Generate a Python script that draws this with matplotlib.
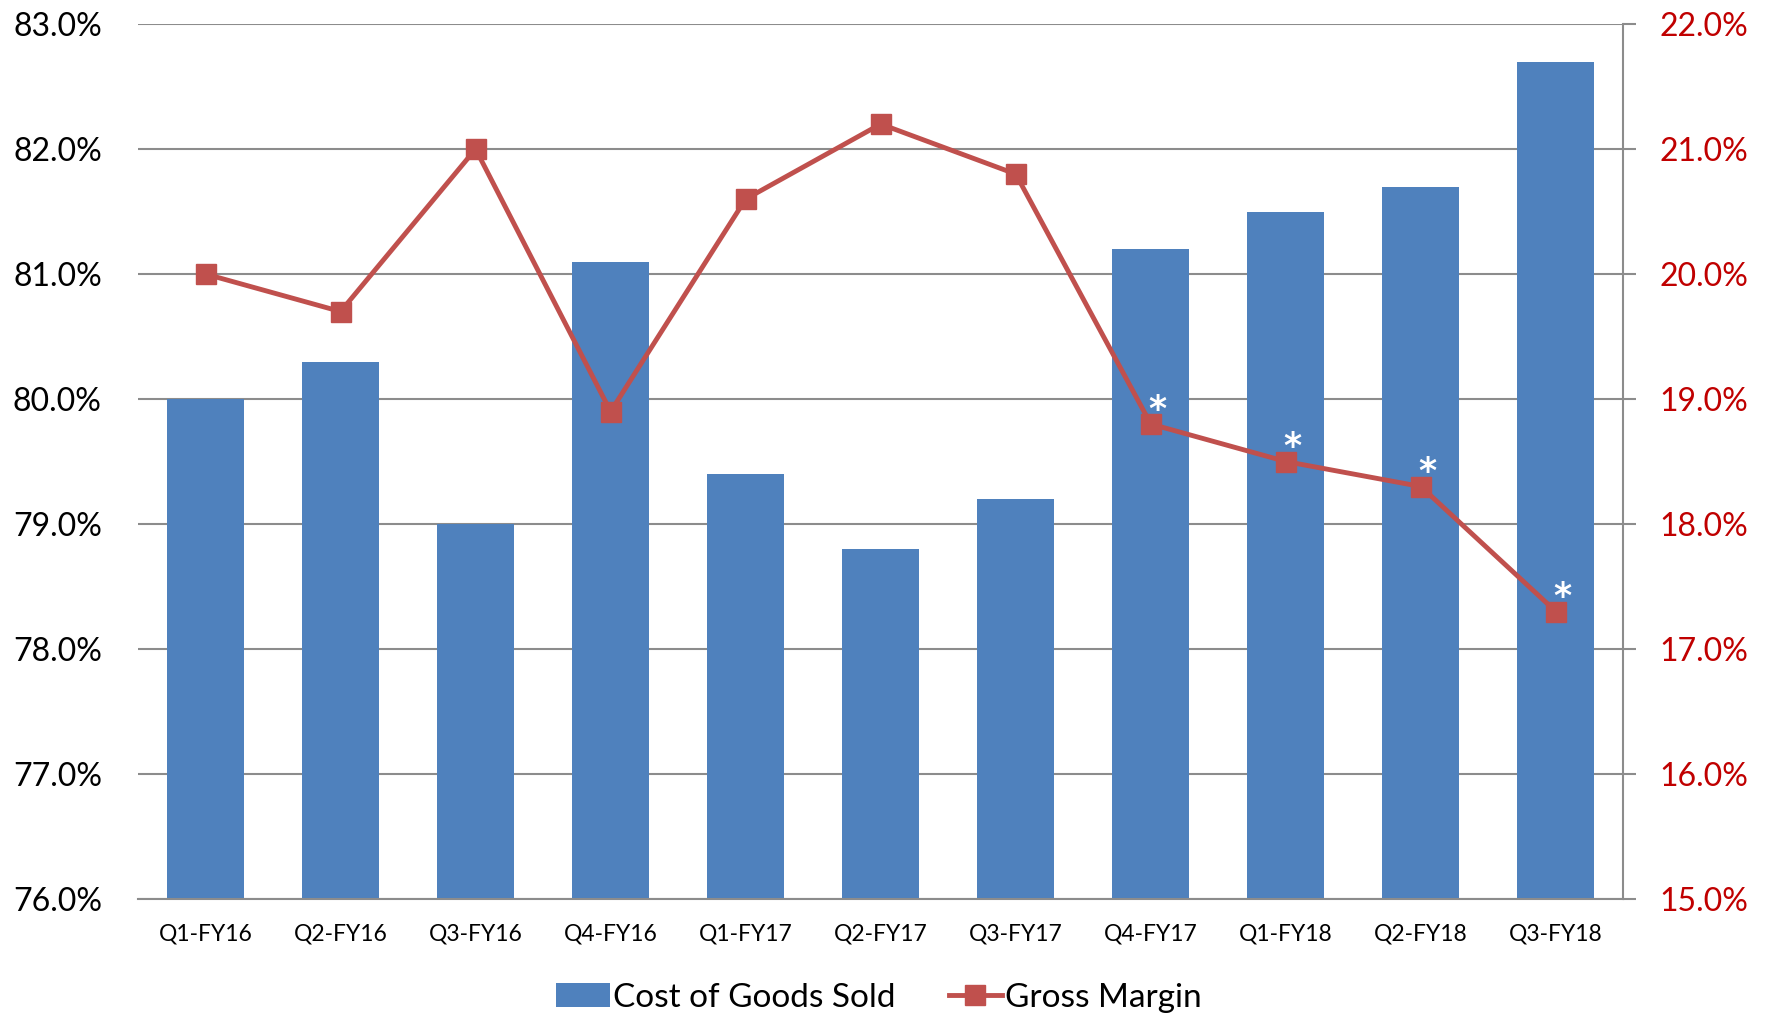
import numpy as np
import matplotlib
matplotlib.use("Agg")
import matplotlib.pyplot as plt
from matplotlib.ticker import FuncFormatter

plt.rcParams['font.family'] = ['Lato', 'DejaVu Sans']

quarters = ['Q1-FY16', 'Q2-FY16', 'Q3-FY16', 'Q4-FY16', 'Q1-FY17', 'Q2-FY17',
            'Q3-FY17', 'Q4-FY17', 'Q1-FY18', 'Q2-FY18', 'Q3-FY18']
cogs = [80.0, 80.3, 79.0, 81.1, 79.4, 78.8, 79.2, 81.2, 81.5, 81.7, 82.7]
gross_margin = [20.0, 19.7, 21.0, 18.9, 20.6, 21.2, 20.8, 18.8, 18.5, 18.3, 17.3]
# quarters flagged with an asterisk
starred = [7, 8, 9, 10]

blue = '#4F81BD'
red = '#C0504D'
grid_gray = '#8C8C8C'

fig = plt.figure(figsize=(17.69, 10.15), dpi=100)
ax = fig.add_axes([0.078, 0.1143, 0.8397, 0.862])
ax2 = ax.twinx()

x = np.arange(len(quarters))
ax.bar(x, cogs, width=0.57, color=blue, zorder=2, label='Cost of Goods Sold')
ax.set_ylim(76, 83)
ax.set_yticks(np.arange(76, 83.5, 1))
ax.yaxis.set_major_formatter(FuncFormatter(lambda v, p: '%.1f%%' % v))
ax.set_xlim(-0.5, len(quarters) - 0.5)
ax.set_xticks(x)
ax.set_xticklabels(quarters, fontsize=16.5)
ax.grid(axis='y', color=grid_gray, linewidth=1.5, zorder=0)
ax.set_axisbelow(True)
ax.tick_params(axis='y', length=0, pad=26, labelsize=23)
ax.tick_params(axis='x', length=0, pad=18)
for s in ['top', 'left', 'right']:
    ax.spines[s].set_visible(False)
ax.spines['bottom'].set_color(grid_gray)
ax.spines['bottom'].set_linewidth(1.5)

ax2.plot(x, gross_margin, color=red, linewidth=3.5, marker='s', markersize=14,
         zorder=3, label='Gross Margin')
ax2.set_ylim(15, 22)
ax2.set_yticks(np.arange(15, 22.5, 1))
ax2.yaxis.set_major_formatter(FuncFormatter(lambda v, p: '%.1f%%' % v))
ax2.tick_params(axis='y', length=9, width=1.5, color=grid_gray, pad=17,
                labelsize=23, labelcolor='#C00000')
for s in ['top', 'left', 'bottom']:
    ax2.spines[s].set_visible(False)
ax2.spines['right'].set_color(grid_gray)
ax2.spines['right'].set_linewidth(1.5)

for i in starred:
    ax2.annotate('*', xy=(x[i], gross_margin[i]), xytext=(5, 3),
                 textcoords='offset points', ha='center', va='baseline',
                 color='white', fontsize=25, fontweight='bold',
                 family='DejaVu Sans', zorder=4)

h1, l1 = ax.get_legend_handles_labels()
h2, l2 = ax2.get_legend_handles_labels()
fig.legend(h1 + h2, l1 + l2, loc='center', bbox_to_anchor=(0.497, 0.017),
           ncol=2, frameon=False, fontsize=24, handlelength=1.6,
           handletextpad=0.1, columnspacing=1.6)

fig.savefig('out.png', dpi=100)
